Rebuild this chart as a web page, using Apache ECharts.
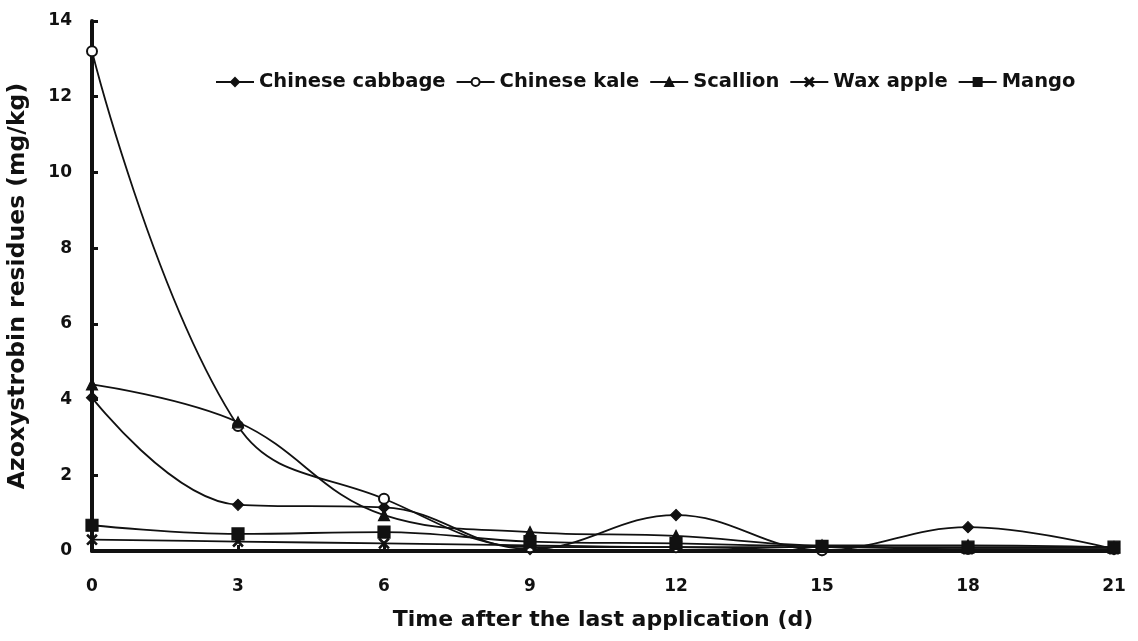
<!DOCTYPE html>
<html>
<head>
<meta charset="utf-8">
<script src="https://cdn.jsdelivr.net/npm/echarts@6/dist/echarts.min.js"></script>
<style>
  html, body { margin: 0; padding: 0; background: #fff; }
  #chart { width: 1138px; height: 641px; }
</style>
</head>
<body>
<div id="chart"></div>
<script>
const days = [0, 3, 6, 9, 12, 15, 18, 21];
const cabbage = [4.05, 1.22, 1.15, 0.05, 0.95, 0.02, 0.63, 0.05];
const kale = [13.2, 3.3, 1.38, 0.1, 0.1, 0.02, 0.05, 0.05];
const scallion = [4.4, 3.4, 0.95, 0.5, 0.4, 0.15, 0.15, 0.1];
const waxApple = [0.3, 0.25, 0.2, 0.15, 0.1, 0.1, 0.05, 0.05];
const mango = [0.68, 0.45, 0.5, 0.25, 0.2, 0.12, 0.1, 0.1];

const font = "'DejaVu Sans', 'Liberation Sans', Arial, sans-serif";
const ink = "#111";
const crossPath = "path://M0,1L1,0L5,4L9,0L10,1L6,5L10,9L9,10L5,6L1,10L0,9L4,5Z";

function line(name, values, symbol, size) {
  return {
    name,
    type: "line",
    smooth: 0.4,
    data: days.map((d, i) => [d, values[i]]),
    symbol,
    symbolSize: size,
    showSymbol: true,
    lineStyle: { color: ink, width: 1.8 },
    itemStyle: { color: ink, borderColor: ink, borderWidth: 1.2 },
    emphasis: { disabled: true },
  };
}

const chart = echarts.init(document.getElementById("chart"), null, { renderer: "canvas" });

chart.setOption({
  animation: false,
  backgroundColor: "#fff",
  textStyle: { fontFamily: font },
  legend: {
    top: 67,
    left: 210,
    itemWidth: 38,
    itemHeight: 10,
    itemGap: 10,
    textStyle: { color: ink, fontSize: 19.5, fontWeight: "bold", fontFamily: font },
    data: ["Chinese cabbage", "Chinese kale", "Scallion", "Wax apple", "Mango"],
  },
  grid: { left: 92, right: 24, top: 21, bottom: 90, outerBoundsMode: "none" },
  xAxis: {
    type: "value",
    min: 0,
    max: 21,
    interval: 3,
    name: "Time after the last application (d)",
    nameLocation: "middle",
    nameGap: 58,
    nameTextStyle: { color: ink, fontSize: 22, fontWeight: "bold", fontFamily: font },
    axisLine: { lineStyle: { color: ink, width: 4 } },
    axisTick: { inside: true, length: 6, lineStyle: { color: ink, width: 3 } },
    axisLabel: { color: ink, fontSize: 17, fontWeight: "bold", margin: 27, fontFamily: font },
    splitLine: { show: false },
  },
  yAxis: {
    type: "value",
    min: 0,
    max: 14,
    interval: 2,
    name: "Azoxystrobin residues (mg/kg)",
    nameLocation: "middle",
    nameGap: 62,
    nameTextStyle: { color: ink, fontSize: 23.5, fontWeight: "bold", fontFamily: font },
    axisLine: { show: true, lineStyle: { color: ink, width: 4 } },
    axisTick: { show: true, inside: true, length: 6, lineStyle: { color: ink, width: 3 } },
    axisLabel: { color: ink, fontSize: 17, fontWeight: "bold", margin: 20, fontFamily: font },
    splitLine: { show: false },
  },
  series: [
    line("Chinese cabbage", cabbage, "diamond", 11),
    line("Chinese kale", kale, "emptyCircle", 10),
    line("Scallion", scallion, "triangle", 11),
    line("Wax apple", waxApple, crossPath, 10),
    line("Mango", mango, "rect", 12),
  ],
});
</script>
</body>
</html>
